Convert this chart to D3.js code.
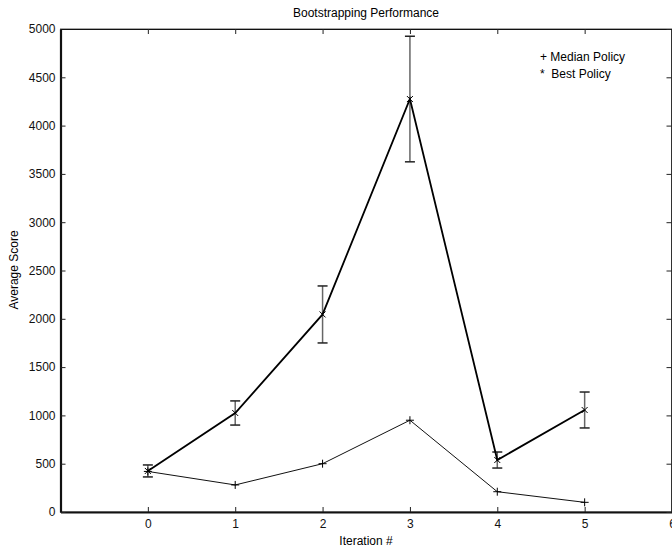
<!DOCTYPE html>
<html><head><meta charset="utf-8">
<script src="https://cdn.jsdelivr.net/npm/d3@7"></script>
<style>body{margin:0;background:#fff}svg{display:block}text{font-family:"Liberation Sans",Arial,sans-serif}</style>
</head><body><svg id="c" width="672" height="548"></svg>
<script>
const iterations = [0, 1, 2, 3, 4, 5];
const medianPolicy = [420, 280, 500, 950, 210, 100];
const bestPolicy = [425, 1025, 2045, 4275, 538, 1056];
const bestError = [62, 125, 295, 650, 83, 186];
const xTicks = [0, 1, 2, 3, 4, 5, 6];
const yTicks = [0, 500, 1000, 1500, 2000, 2500, 3000, 3500, 4000, 4500, 5000];

const svg = d3.select("#c");
const L = 60.5, R = 671.5, T = 29, B = 512;
const x = d3.scaleLinear().domain([-1, 6]).range([L, R + 0.5]);
const y = d3.scaleLinear().domain([0, 5000]).range([B, T]);

// frame
svg.append("rect").attr("x", L).attr("y", T).attr("width", R - L).attr("height", B - T)
  .attr("fill", "none").attr("stroke", "#555").attr("stroke-width", 1);

// axes
const bottom = svg.append("g").attr("transform", `translate(0,${B})`)
  .call(d3.axisBottom(x).tickValues(xTicks).tickFormat(d3.format("d")).tickSize(-5).tickPadding(7).tickSizeOuter(0));
const left = svg.append("g").attr("transform", `translate(${L},0)`)
  .call(d3.axisLeft(y).tickValues(yTicks).tickFormat(d3.format("d")).tickSize(-5).tickPadding(5).tickSizeOuter(0));
svg.append("g").attr("transform", `translate(0,${T})`)
  .call(d3.axisTop(x).tickValues(xTicks).tickSize(-5).tickFormat("").tickSizeOuter(0));
svg.append("g").attr("transform", `translate(${R},0)`)
  .call(d3.axisRight(y).tickValues(yTicks).tickSize(-5).tickFormat("").tickSizeOuter(0));
svg.selectAll(".domain").attr("stroke", "#111").attr("stroke-width", 1);
bottom.select(".domain").attr("stroke-width", 2.2);
left.select(".domain").attr("stroke-width", 2.2);
svg.selectAll(".tick line").attr("stroke", "#222");
svg.selectAll(".tick text").attr("font-size", 12).attr("fill", "#111");

// error bars
const eb = svg.append("g").attr("stroke", "#666").attr("stroke-width", 1.5);
iterations.forEach((it, i) => {
  const cx = x(it), y1 = y(bestPolicy[i] - bestError[i]), y2 = y(bestPolicy[i] + bestError[i]);
  eb.append("line").attr("x1", cx).attr("x2", cx).attr("y1", y1).attr("y2", y2);
  eb.append("line").attr("x1", cx - 5).attr("x2", cx + 5).attr("y1", y1).attr("y2", y1).attr("stroke", "#222");
  eb.append("line").attr("x1", cx - 5).attr("x2", cx + 5).attr("y1", y2).attr("y2", y2).attr("stroke", "#222");
});

// lines
const line = d3.line().x((d, i) => x(iterations[i])).y(d => y(d));
svg.append("path").datum(medianPolicy).attr("d", line).attr("fill", "none").attr("stroke", "#111").attr("stroke-width", 1);
svg.append("path").datum(bestPolicy).attr("d", line).attr("fill", "none").attr("stroke", "#000").attr("stroke-width", 1.8);

// markers
const m = svg.append("g").attr("stroke", "#000").attr("stroke-width", 1);
medianPolicy.forEach((v, i) => {
  const cx = x(iterations[i]), cy = y(v);
  m.append("path").attr("d", `M${cx - 4},${cy}H${cx + 4}M${cx},${cy - 4}V${cy + 4}`);
});
bestPolicy.forEach((v, i) => {
  const cx = x(iterations[i]), cy = y(v);
  m.append("path").attr("d", `M${cx - 3},${cy - 3}L${cx + 3},${cy + 3}M${cx - 3},${cy + 3}L${cx + 3},${cy - 3}`);
});

// texts
svg.append("text").attr("x", 366).attr("y", 17).attr("text-anchor", "middle").attr("font-size", 12).text("Bootstrapping Performance");
svg.append("text").attr("x", 366).attr("y", 545).attr("text-anchor", "middle").attr("font-size", 12).text("Iteration #");
svg.append("text").attr("transform", "translate(18,270) rotate(-90)").attr("text-anchor", "middle").attr("font-size", 12).text("Average Score");
svg.append("text").attr("x", 540).attr("y", 61).attr("font-size", 12).text("+ Median Policy");
svg.append("text").attr("x", 540).attr("y", 78).attr("font-size", 12).attr("xml:space", "preserve").text("*  Best Policy");
</script></body></html>
